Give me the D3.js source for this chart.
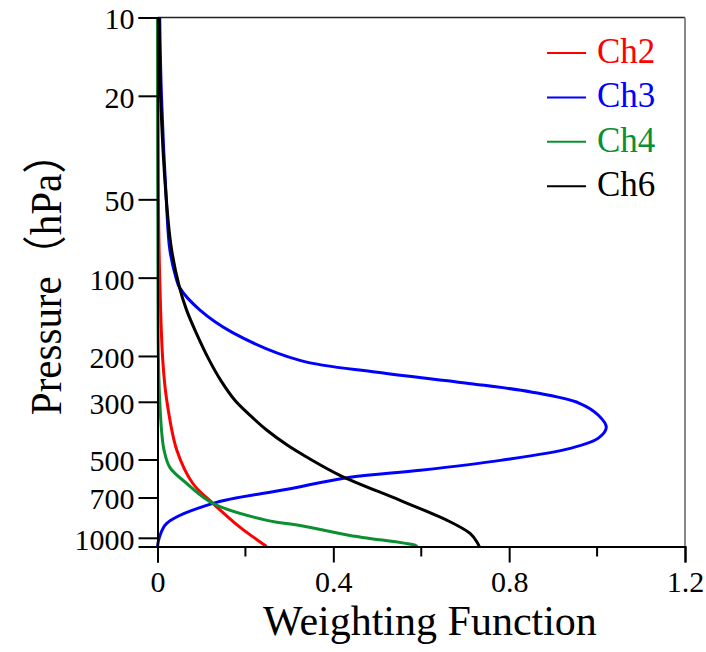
<!DOCTYPE html>
<html>
<head>
<meta charset="utf-8">
<script src="https://cdn.jsdelivr.net/npm/d3@7/dist/d3.min.js"></script>
<style>
  body { margin: 0; background: #fff; }
</style>
</head>
<body>
<div id="chart"></div>
<script>
"use strict";

// channel names and colours
var channels = ["Ch2", "Ch3", "Ch4", "Ch6"];
var channelColors = ["#ff0000", "#0000ff", "#0a9030", "#000000"];

// weighting functions (pressure in hPa, weight)
var ch2Pressure = [10, 50, 100, 208, 296, 461, 617, 737, 912, 1070, 1080];
var ch2Weight   = [0.001, 0.002, 0.005, 0.012, 0.021, 0.044, 0.080, 0.126, 0.188, 0.245, 0.248];

var ch3Pressure = [10, 20, 50, 78, 100, 109, 133, 163, 208, 231, 254, 275, 304, 338, 376, 414, 453, 504, 550, 585, 651, 737, 880, 1000, 1080];
var ch3Weight   = [0.005, 0.009, 0.02, 0.028, 0.042, 0.05, 0.096, 0.172, 0.324, 0.50, 0.70, 0.85, 0.96, 1.003, 1.021, 1.003, 0.939, 0.78, 0.598, 0.438, 0.295, 0.126, 0.021, 0.004, 0];

var ch4Pressure = [10, 100, 200, 296, 400, 461, 536, 617, 737, 857, 896, 979, 1070, 1080];
var ch4Weight   = [0, 0.001, 0.002, 0.005, 0.010, 0.015, 0.028, 0.066, 0.126, 0.249, 0.324, 0.438, 0.587, 0.59];

var ch6Pressure = [10, 20, 50, 78, 109, 133, 163, 208, 250, 296, 340, 386, 440, 490, 575, 718, 857, 962, 1040, 1080];
var ch6Weight   = [0.004, 0.007, 0.02, 0.032, 0.05, 0.066, 0.088, 0.118, 0.145, 0.176, 0.212, 0.249, 0.295, 0.340, 0.415, 0.552, 0.659, 0.711, 0.727, 0.732];

// tick labels
var yTicks = [10, 20, 50, 100, 200, 300, 500, 700, 1000];
var xTicks = [0, 0.4, 0.8, 1.2];
var xMinorTicks = [0.2, 0.6, 1.0];

(function() {
  // declarations
  var width, height, plot, svg, x, y, line, series, legend, yAxis, xAxis, yTitle;
  var SERIF = "'Liberation Serif', 'Times New Roman', serif";
  var CJK = "'Noto Sans CJK SC', sans-serif";

  width = 706;
  height = 652;
  plot = {left: 157.5, right: 685, top: 17.5, bottom: 546.5};

  svg = d3.select("#chart").append("svg")
    .attr("width", width)
    .attr("height", height);

  x = d3.scaleLinear().domain([0, 1.2]).range([plot.left, plot.right]);
  y = d3.scaleLog().domain([10, 1080]).range([plot.top, plot.bottom]);

  series = [
    {p: ch2Pressure, w: ch2Weight},
    {p: ch3Pressure, w: ch3Weight},
    {p: ch4Pressure, w: ch4Weight},
    {p: ch6Pressure, w: ch6Weight}
  ].map(function(d, i) {
    return {
      name: channels[i],
      color: channelColors[i],
      values: d.p.map(function(p, j) { return {p: p, w: d.w[j]}; })
    };
  });

  // frame (top and right)
  svg.append("line")
    .attr("x1", plot.left).attr("x2", plot.right)
    .attr("y1", plot.top).attr("y2", plot.top)
    .attr("stroke", "#222").attr("stroke-width", 1.5);
  svg.append("line")
    .attr("x1", plot.right).attr("x2", plot.right)
    .attr("y1", plot.top).attr("y2", plot.bottom)
    .attr("stroke", "#888").attr("stroke-width", 2);

  // curves
  line = d3.line()
    .x(function(d) { return x(d.w); })
    .y(function(d) { return y(d.p); })
    .curve(d3.curveCatmullRom.alpha(0.5));

  svg.append("g").selectAll("path")
    .data(series)
    .enter()
    .append("path")
    .attr("d", function(d) { return line(d.values); })
    .attr("fill", "none")
    .attr("stroke", function(d) { return d.color; })
    .attr("stroke-width", 3);

  // y axis
  yAxis = svg.append("g")
    .attr("transform", "translate(" + plot.left + ",0)")
    .call(d3.axisLeft(y).tickValues(yTicks).tickFormat(d3.format("d")).tickSize(19).tickPadding(4));
  yAxis.select(".domain").attr("stroke", "#000").attr("stroke-width", 2);
  yAxis.selectAll(".tick line").attr("stroke", "#000").attr("stroke-width", 2);
  yAxis.selectAll(".tick text")
    .attr("fill", "#000")
    .style("font-family", SERIF)
    .style("font-size", "30px")
    .attr("dy", "0.38em");

  // x axis
  xAxis = svg.append("g")
    .attr("transform", "translate(0," + plot.bottom + ")")
    .call(d3.axisBottom(x).tickValues(xTicks)
      .tickFormat(function(d) { return d === 0 ? "0" : d3.format(".1f")(d); })
      .tickSize(16).tickPadding(8));
  xAxis.select(".domain").attr("stroke", "#000").attr("stroke-width", 2);
  xAxis.selectAll(".tick line").attr("stroke", "#000").attr("stroke-width", 2);
  xAxis.selectAll(".tick text")
    .attr("fill", "#000")
    .style("font-family", SERIF)
    .style("font-size", "30px")
    .attr("dy", "0.72em");

  xAxis.selectAll(".minor")
    .data(xMinorTicks)
    .enter()
    .append("line")
    .attr("class", "minor")
    .attr("x1", function(d) { return x(d); })
    .attr("x2", function(d) { return x(d); })
    .attr("y1", 0).attr("y2", 10)
    .attr("stroke", "#000").attr("stroke-width", 2);

  // axis titles
  svg.append("text")
    .attr("x", 430)
    .attr("y", 635)
    .attr("text-anchor", "middle")
    .style("font-family", SERIF)
    .style("font-size", "42px")
    .text("Weighting Function");

  yTitle = svg.append("text")
    .attr("transform", "translate(61,274) rotate(-90) scale(1,1.08)")
    .attr("text-anchor", "middle")
    .style("font-family", SERIF)
    .style("font-size", "41px");
  yTitle.append("tspan").text("Pressure");
  yTitle.append("tspan").style("font-family", CJK).text("（");
  yTitle.append("tspan").text("hPa");
  yTitle.append("tspan").style("font-family", CJK).text("）");

  // legend
  legend = svg.append("g").selectAll(".legend")
    .data(series)
    .enter()
    .append("g")
    .attr("class", "legend")
    .attr("transform", function(d, i) { return "translate(547," + (53 + i * 44.4) + ")"; });

  legend.append("line")
    .attr("x1", 0).attr("x2", 39)
    .attr("stroke", function(d) { return d.color; })
    .attr("stroke-width", 2);

  legend.append("text")
    .attr("x", 50)
    .attr("y", 10)
    .style("font-family", SERIF)
    .style("font-size", "35px")
    .attr("fill", function(d) { return d.color; })
    .text(function(d) { return d.name; });
})();
</script>
</body>
</html>
